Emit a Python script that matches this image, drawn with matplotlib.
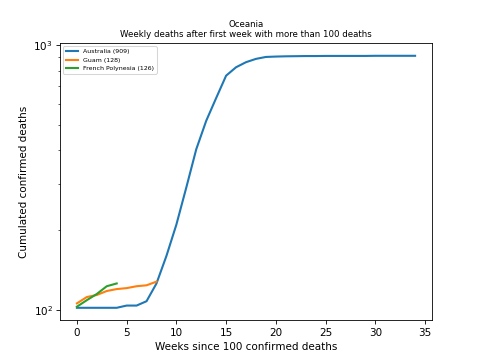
import matplotlib
matplotlib.use('Agg')
import matplotlib.pyplot as plt

# weekly cumulated deaths
australia = [102, 102, 102, 102, 102, 104, 104, 108, 126, 160, 210, 290, 404, 517,
             630, 765, 823, 860, 885, 900, 903, 905, 906, 907, 907, 908, 908, 908,
             908, 908, 909, 909, 909, 909, 909]
guam = [106, 112, 114, 118, 120, 121, 123, 124, 128]
french_polynesia = [103, 109, 115, 123, 126]

series = [("Australia", australia), ("Guam", guam), ("French Polynesia", french_polynesia)]

fig, ax = plt.subplots(figsize=(6.4, 4.8), dpi=75)
for name, values in series:
    ax.plot(range(len(values)), values, linewidth=2, label="%s (%d)" % (name, values[-1]))

ax.set_yscale('log')
ax.set_title("Oceania\nWeekly deaths after first week with more than 100 deaths", fontsize='small')
ax.set_xlabel("Weeks since 100 confirmed deaths")
ax.set_ylabel("Cumulated confirmed deaths")
ax.legend(loc='upper left', fontsize=6)

plt.savefig("out.png")
